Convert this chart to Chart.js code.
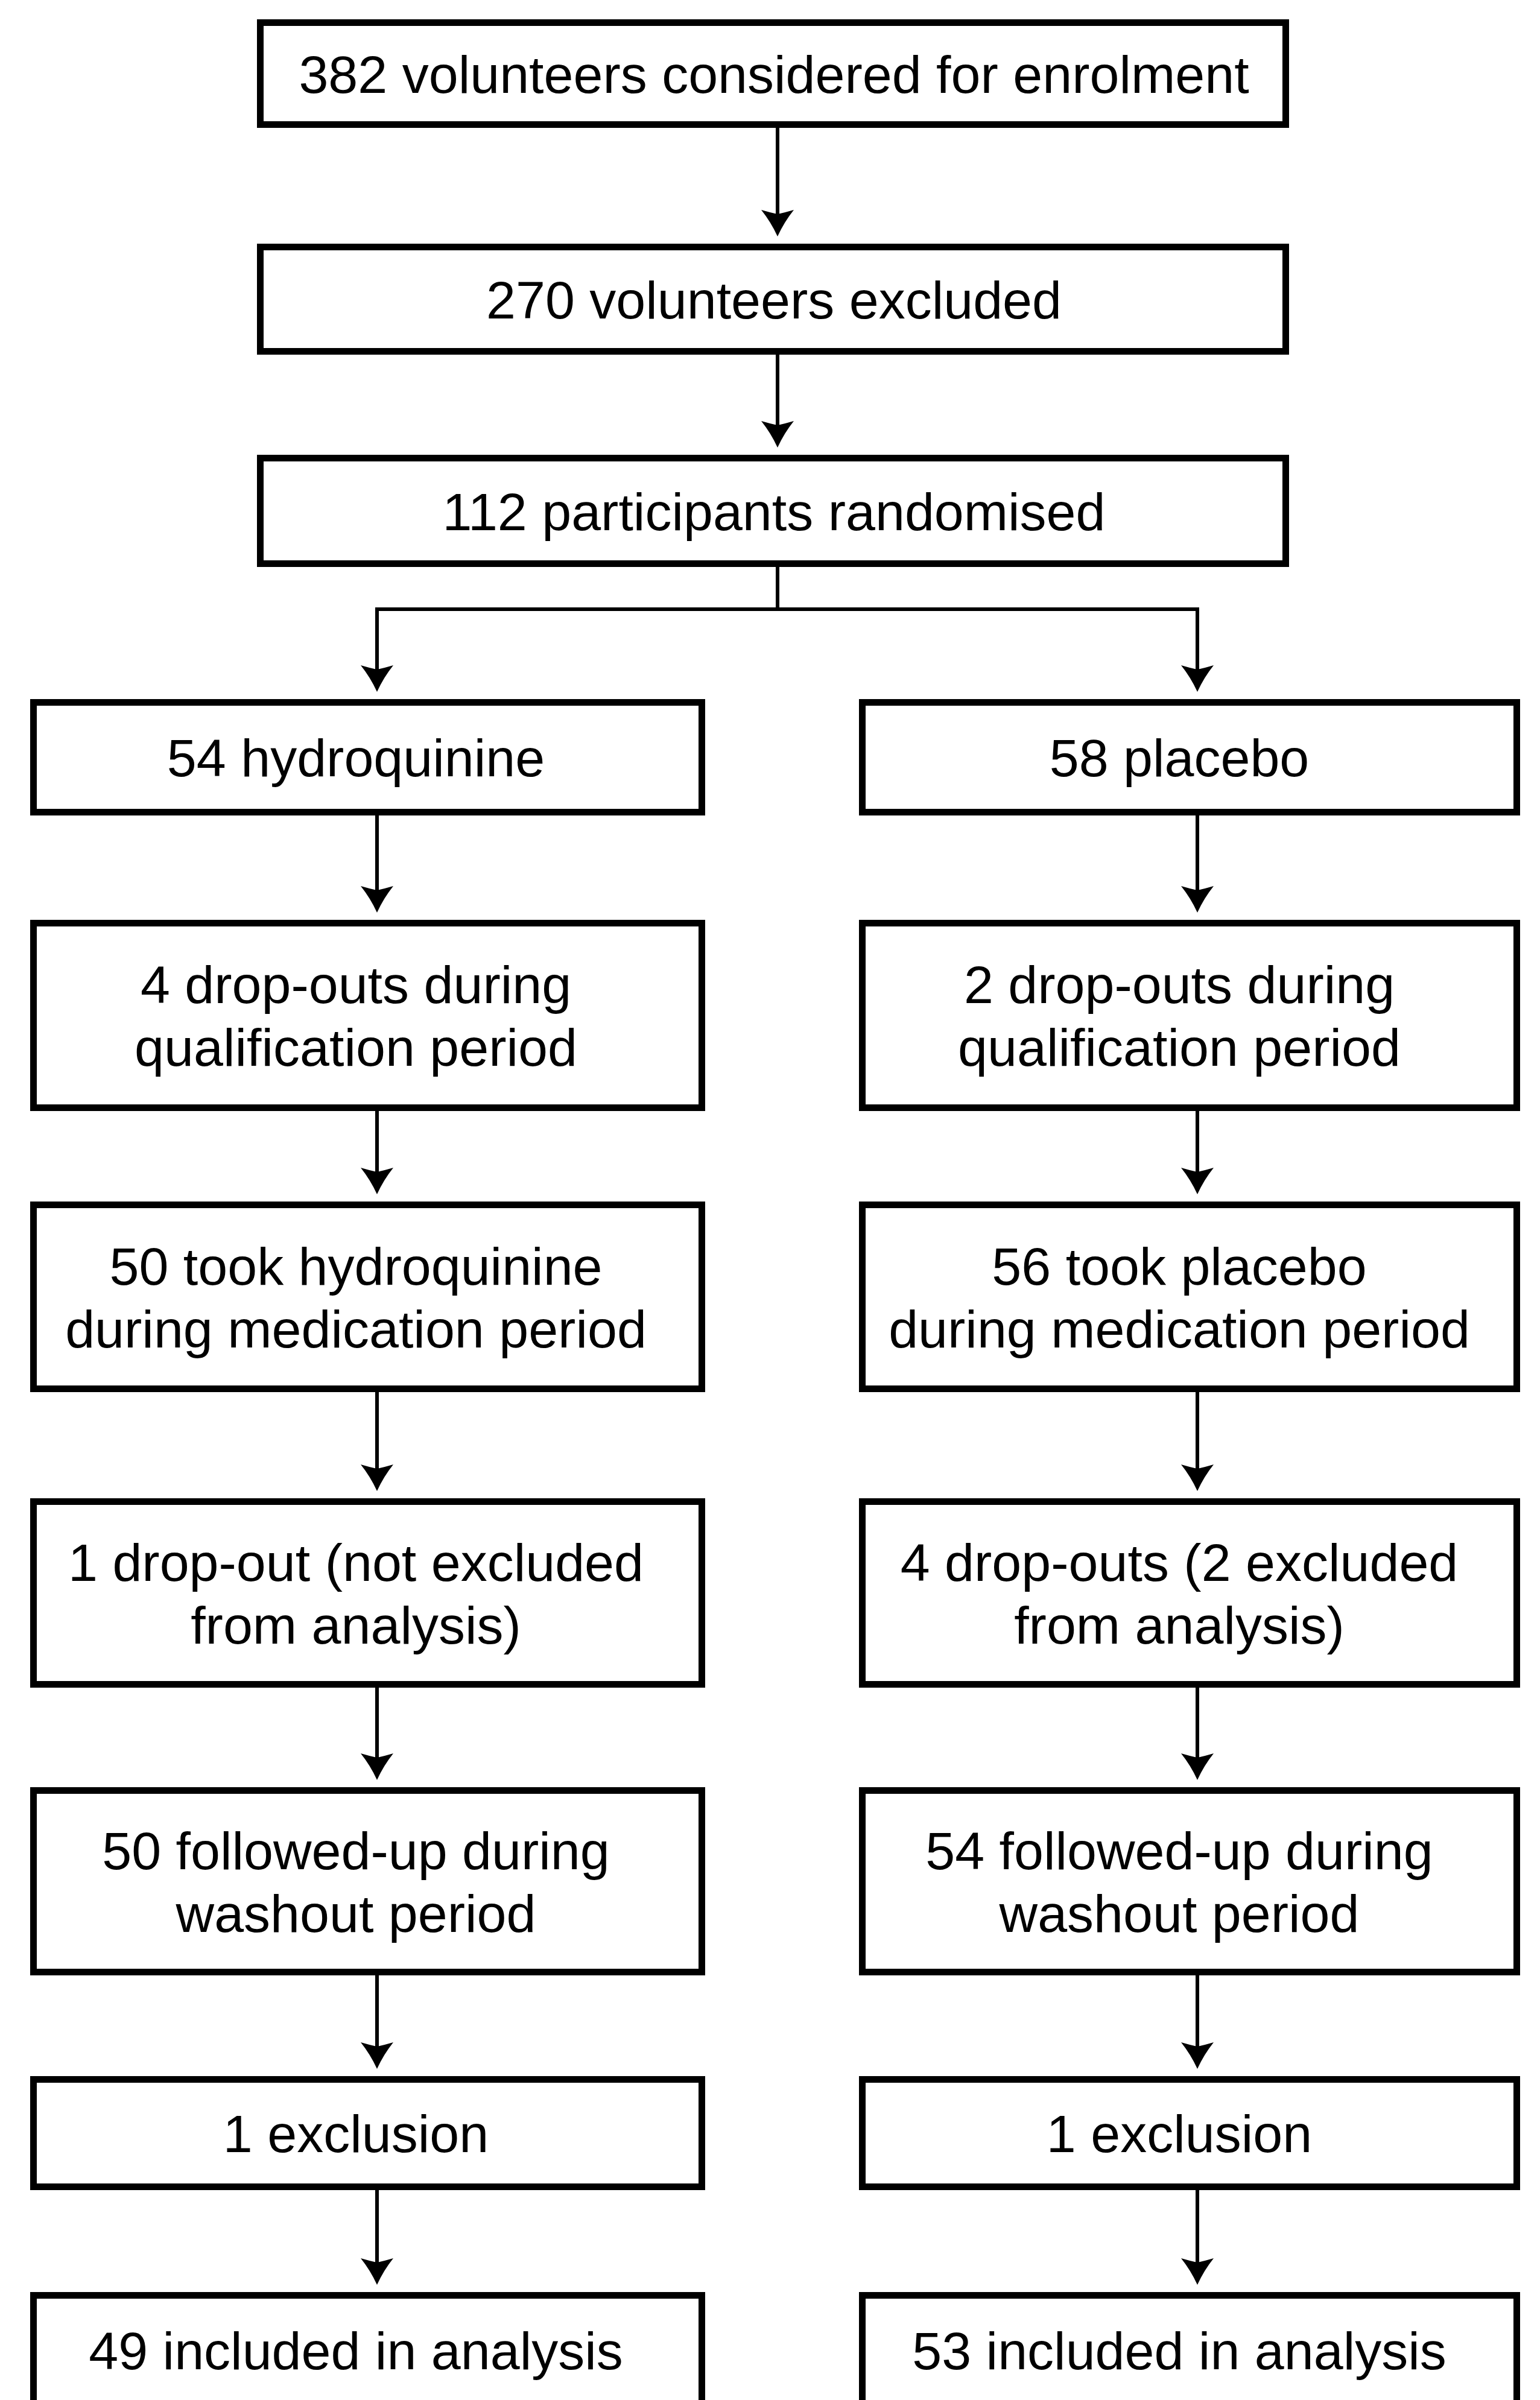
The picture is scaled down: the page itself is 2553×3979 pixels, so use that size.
<!DOCTYPE html>
<html>
<head>
<meta charset="utf-8">
<script src="https://cdn.jsdelivr.net/npm/chart.js@4.4.1/dist/chart.umd.min.js"></script>
<style>
  html, body { margin: 0; padding: 0; background: #fff; }
  canvas { display: block; }
</style>
</head>
<body>
<canvas id="flow" width="2553" height="3979"></canvas>
<script>
// Textos del diagrama de flujo
const screeningSteps = [
    ['382 volunteers considered for enrolment'],
    ['270 volunteers excluded'],
    ['112 participants randomised']
];
const hydroquinineArm = [
    ['54 hydroquinine'],
    ['4 drop-outs during', 'qualification period'],
    ['50 took hydroquinine', 'during medication period'],
    ['1 drop-out (not excluded', 'from analysis)'],
    ['50 followed-up during', 'washout period'],
    ['1 exclusion'],
    ['49 included in analysis']
];
const placeboArm = [
    ['58 placebo'],
    ['2 drop-outs during', 'qualification period'],
    ['56 took placebo', 'during medication period'],
    ['4 drop-outs (2 excluded', 'from analysis)'],
    ['54 followed-up during', 'washout period'],
    ['1 exclusion'],
    ['53 included in analysis']
];

// Geometría (unidades = píxeles del lienzo)
const W = 2553, H = 3979;
const topCol = { left: 426, right: 2137, axis: 1289, textX: 1283 };
const leftCol = { left: 50, right: 1169, axis: 625, textX: 590 };
const rightCol = { left: 1424, right: 2520, axis: 1985, textX: 1955 };
const topRows = [[32, 212], [404, 588], [754, 940]];
const armRows = [[1159, 1352], [1525, 1842], [1992, 2308], [2484, 2798], [2963, 3275], [3442, 3631], [3800, 3992]];
const branchY = 1010;

const BOX_LINE = 11;
const LINK_LINE = 6;
const HEAD_W = 54;      // ancho de la punta de flecha
const HEAD_H = 46;      // alto de la punta de flecha
const TIP_GAP = 12;     // hueco entre la punta y la caja
const FONT_SIZE = 88;
const CAP = 63;         // altura de mayúsculas aprox.
const LINE_GAP = 104;

// Punta de flecha con aletas (como en el original)
const headImg = document.createElement('canvas');
headImg.width = HEAD_W;
headImg.height = HEAD_H;
(function () {
    const c = headImg.getContext('2d');
    const m = HEAD_W / 2;
    c.fillStyle = '#000';
    c.beginPath();
    c.moveTo(0, 2);
    c.quadraticCurveTo(m * 0.5, 6, m, 9);
    c.quadraticCurveTo(m * 1.5, 6, HEAD_W, 2);
    c.quadraticCurveTo(m + 11, 22, m, HEAD_H);
    c.quadraticCurveTo(m - 11, 22, 0, 2);
    c.closePath();
    c.fill();
})();

// Cajas
const boxes = [];
screeningSteps.forEach((lines, i) => boxes.push({ col: topCol, row: topRows[i], lines: lines }));
hydroquinineArm.forEach((lines, i) => boxes.push({ col: leftCol, row: armRows[i], lines: lines }));
placeboArm.forEach((lines, i) => boxes.push({ col: rightCol, row: armRows[i], lines: lines }));

function rectPoints(col, row) {
    const h = BOX_LINE / 2;
    const L = col.left + h, R = col.right - h, T = row[0] + h, B = row[1] - h;
    const mid = (L + R) / 2;
    return [{x: mid, y: T}, {x: R, y: T}, {x: R, y: B}, {x: L, y: B}, {x: L, y: T}, {x: mid, y: T}];
}

const datasets = [];
boxes.forEach(b => {
    datasets.push({
        data: rectPoints(b.col, b.row),
        showLine: true,
        borderColor: '#000',
        borderWidth: BOX_LINE,
        borderJoinStyle: 'miter',
        pointRadius: 0,
        tension: 0
    });
});

// Conectores y puntas de flecha
const heads = [];
function link(points) {
    datasets.push({
        data: points,
        showLine: true,
        borderColor: '#000',
        borderWidth: LINK_LINE,
        borderJoinStyle: 'miter',
        pointRadius: 0,
        tension: 0
    });
}
function arrowDown(x, fromY, toTop) {
    const tip = toTop - TIP_GAP;
    link([{x: x, y: fromY}, {x: x, y: tip - 20}]);
    heads.push({x: x, y: tip - HEAD_H / 2});
}

for (let i = 0; i < topRows.length - 1; i++) {
    arrowDown(topCol.axis, topRows[i][1], topRows[i + 1][0]);
}
// Rama de aleatorización
const armTip = armRows[0][0] - TIP_GAP;
link([{x: topCol.axis, y: topRows[2][1]}, {x: topCol.axis, y: branchY}]);
link([
    {x: leftCol.axis, y: armTip - 20}, {x: leftCol.axis, y: branchY},
    {x: rightCol.axis, y: branchY}, {x: rightCol.axis, y: armTip - 20}
]);
heads.push({x: leftCol.axis, y: armTip - HEAD_H / 2});
heads.push({x: rightCol.axis, y: armTip - HEAD_H / 2});

for (let i = 0; i < armRows.length - 1; i++) {
    arrowDown(leftCol.axis, armRows[i][1], armRows[i + 1][0]);
    arrowDown(rightCol.axis, armRows[i][1], armRows[i + 1][0]);
}

datasets.push({
    data: heads,
    showLine: false,
    pointStyle: headImg,
    pointRadius: HEAD_W / 2
});

// Plugin para escribir el texto de cada caja
const boxLabels = {
    id: 'boxLabels',
    afterDatasetsDraw(chart) {
        const ctx = chart.ctx;
        const xs = chart.scales.x, ys = chart.scales.y;
        ctx.save();
        ctx.font = FONT_SIZE + 'px "Liberation Sans", Arial, sans-serif';
        ctx.fillStyle = '#000';
        ctx.textAlign = 'center';
        ctx.textBaseline = 'alphabetic';
        boxes.forEach(b => {
            const cy = (b.row[0] + b.row[1]) / 2;
            const n = b.lines.length;
            b.lines.forEach((line, i) => {
                const yy = cy + (i - (n - 1) / 2) * LINE_GAP + CAP / 2;
                ctx.fillText(line, xs.getPixelForValue(b.col.textX), ys.getPixelForValue(yy));
            });
        });
        ctx.restore();
    }
};

new Chart(document.getElementById('flow'), {
    type: 'scatter',
    data: { datasets: datasets },
    options: {
        responsive: false,
        devicePixelRatio: 1,
        animation: false,
        layout: { padding: 0, autoPadding: false },
        scales: {
            x: { type: 'linear', min: 0, max: W, display: false },
            y: { type: 'linear', min: 0, max: H, reverse: true, display: false }
        },
        plugins: {
            legend: { display: false },
            tooltip: { enabled: false }
        }
    },
    plugins: [boxLabels]
});
</script>
</body>
</html>
